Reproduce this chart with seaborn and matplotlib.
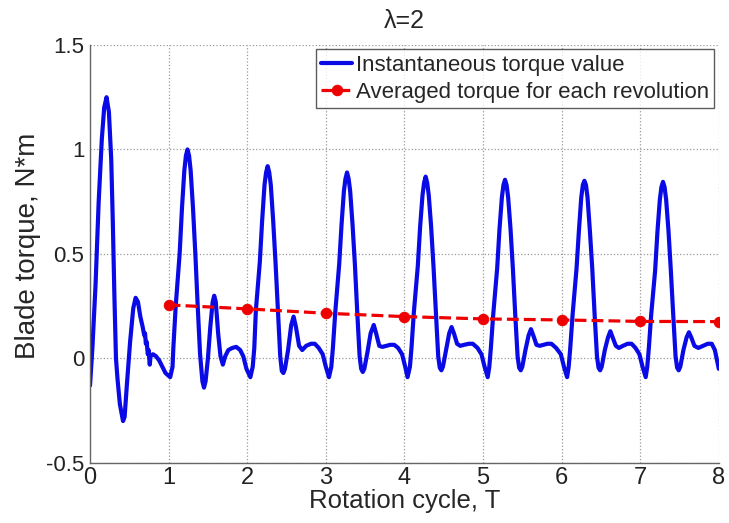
import numpy as np
import pandas as pd
import matplotlib
matplotlib.use('Agg')
import matplotlib.pyplot as plt
import seaborn as sns

# instantaneous blade torque
t_inst = [0.00, 0.03, 0.07, 0.11, 0.15, 0.18, 0.21, 0.24, 0.27, 0.29, 0.31, 0.33, 0.35, 0.38, 0.42, 0.44,
          0.47, 0.51, 0.55, 0.58, 0.61, 0.64, 0.67, 0.69, 0.70, 0.71, 0.72, 0.735, 0.745, 0.76, 0.77, 0.80,
          0.84, 0.88, 0.92, 0.96, 1.02,
          1.05, 1.06, 1.09, 1.14, 1.17, 1.20, 1.22, 1.24, 1.26, 1.28, 1.31, 1.34, 1.37, 1.40, 1.43, 1.45,
          1.47, 1.50, 1.53, 1.56, 1.58, 1.60, 1.63, 1.66, 1.69, 1.72, 1.76, 1.81, 1.86, 1.91, 1.95, 1.99, 2.04,
          2.07, 2.09, 2.11, 2.16, 2.19, 2.22, 2.24, 2.26, 2.28, 2.30, 2.33, 2.36, 2.39, 2.42, 2.44, 2.46,
          2.48, 2.52, 2.56, 2.59, 2.62, 2.66, 2.70, 2.75, 2.81, 2.86, 2.91, 2.96, 3.00, 3.04,
          3.07, 3.09, 3.12, 3.17, 3.20, 3.23, 3.25, 3.27, 3.29, 3.31, 3.34, 3.37, 3.40, 3.43, 3.45, 3.47,
          3.49, 3.53, 3.57, 3.61, 3.64, 3.68, 3.72, 3.77, 3.82, 3.87, 3.92, 3.97, 4.01, 4.04,
          4.07, 4.09, 4.12, 4.17, 4.20, 4.23, 4.25, 4.27, 4.29, 4.31, 4.34, 4.37, 4.40, 4.43, 4.45, 4.47,
          4.49, 4.53, 4.57, 4.60, 4.63, 4.67, 4.71, 4.76, 4.82, 4.87, 4.93, 4.98, 5.02, 5.06,
          5.08, 5.10, 5.13, 5.18, 5.21, 5.24, 5.26, 5.28, 5.30, 5.32, 5.35, 5.38, 5.41, 5.44, 5.46, 5.48,
          5.50, 5.54, 5.58, 5.61, 5.64, 5.68, 5.72, 5.77, 5.82, 5.87, 5.93, 5.99, 6.03, 6.07,
          6.09, 6.11, 6.14, 6.19, 6.22, 6.25, 6.27, 6.29, 6.31, 6.33, 6.36, 6.39, 6.42, 6.45, 6.47, 6.49,
          6.51, 6.55, 6.59, 6.62, 6.65, 6.69, 6.73, 6.78, 6.84, 6.89, 6.94, 6.99, 7.03, 7.07,
          7.09, 7.11, 7.14, 7.19, 7.22, 7.25, 7.27, 7.29, 7.31, 7.33, 7.36, 7.39, 7.42, 7.45, 7.47, 7.49,
          7.51, 7.55, 7.59, 7.62, 7.65, 7.69, 7.74, 7.80, 7.86, 7.91, 7.95, 8.00]
torque_inst = [-0.13, 0.05, 0.35, 0.75, 1.05, 1.20, 1.25, 1.18, 0.95, 0.65, 0.30, 0.00, -0.10, -0.22, -0.30, -0.28,
               -0.12, 0.08, 0.24, 0.29, 0.27, 0.20, 0.15, 0.11, 0.12, 0.07, 0.08, 0.02, 0.04, -0.03, 0.01, 0.02,
               0.01, -0.01, -0.04, -0.07, -0.09,
               -0.04, 0.05, 0.25, 0.50, 0.72, 0.90, 0.97, 1.00, 0.97, 0.90, 0.72, 0.50, 0.25, 0.02, -0.11, -0.14,
               -0.11, 0.00, 0.15, 0.27, 0.30, 0.27, 0.12, 0.01, -0.03, 0.01, 0.04, 0.05, 0.055, 0.04, 0.01, -0.05, -0.09,
               -0.04, 0.05, 0.23, 0.46, 0.66, 0.83, 0.89, 0.92, 0.89, 0.83, 0.66, 0.46, 0.23, 0.01, -0.06, -0.07,
               -0.05, 0.04, 0.16, 0.20, 0.15, 0.06, 0.04, 0.06, 0.07, 0.07, 0.05, 0.02, -0.04, -0.09,
               -0.04, 0.05, 0.22, 0.45, 0.64, 0.80, 0.86, 0.89, 0.86, 0.80, 0.64, 0.45, 0.22, 0.01, -0.05, -0.065,
               -0.05, 0.03, 0.12, 0.16, 0.12, 0.06, 0.055, 0.06, 0.065, 0.065, 0.05, 0.02, -0.04, -0.09,
               -0.04, 0.05, 0.22, 0.44, 0.63, 0.78, 0.84, 0.87, 0.84, 0.78, 0.63, 0.44, 0.22, 0.01, -0.045, -0.057,
               -0.04, 0.04, 0.12, 0.15, 0.12, 0.07, 0.06, 0.065, 0.07, 0.07, 0.05, 0.02, -0.04, -0.09,
               -0.04, 0.05, 0.21, 0.43, 0.62, 0.77, 0.83, 0.855, 0.83, 0.77, 0.62, 0.43, 0.21, 0.01, -0.045, -0.057,
               -0.04, 0.04, 0.11, 0.14, 0.11, 0.065, 0.06, 0.065, 0.07, 0.07, 0.05, 0.02, -0.04, -0.09,
               -0.04, 0.05, 0.21, 0.43, 0.61, 0.77, 0.83, 0.85, 0.83, 0.77, 0.61, 0.43, 0.21, 0.01, -0.045, -0.057,
               -0.04, 0.04, 0.10, 0.13, 0.10, 0.06, 0.05, 0.06, 0.07, 0.07, 0.05, 0.02, -0.04, -0.09,
               -0.04, 0.05, 0.21, 0.42, 0.61, 0.76, 0.82, 0.845, 0.82, 0.76, 0.61, 0.42, 0.21, 0.01, -0.045, -0.057,
               -0.04, 0.04, 0.10, 0.125, 0.10, 0.06, 0.05, 0.06, 0.07, 0.07, 0.04, -0.05]

# averaged torque per revolution
t_avg = [1, 2, 3, 4, 5, 6, 7, 8]
torque_avg = [0.256, 0.237, 0.216, 0.200, 0.189, 0.184, 0.177, 0.176]

df_inst = pd.DataFrame({'t': t_inst, 'torque': torque_inst})
df_avg = pd.DataFrame({'t': t_avg, 'torque': torque_avg})

sns.set_style('white')
plt.rcParams['font.family'] = ['Liberation Sans', 'DejaVu Sans']

fig = plt.figure(figsize=(7.29, 5.23), dpi=100)
ax = fig.add_axes([0.1235, 0.115, 0.8625, 0.799])

sns.lineplot(data=df_inst, x='t', y='torque', ax=ax, color='#0a0ae6', linewidth=3.0,
             label='Instantaneous torque value', sort=False, estimator=None)
sns.lineplot(data=df_avg, x='t', y='torque', ax=ax, color='#ee0000', linewidth=2.3,
             linestyle='--', marker='o', markersize=7.5, markeredgecolor='#ee0000',
             label='Averaged torque for each revolution', estimator=None)

ax.set_xlim(0, 8)
ax.set_ylim(-0.5, 1.5)
ax.set_xticks(range(0, 9))
ax.set_yticks([-0.5, 0, 0.5, 1, 1.5])
ax.set_yticklabels(['-0.5', '0', '0.5', '1', '1.5'])
ax.grid(True, linestyle=':', color='#999999', linewidth=0.9)
ax.tick_params(direction='in', length=4, colors='#222222')
ax.tick_params(axis='x', labelsize=17, pad=3)
ax.tick_params(axis='y', labelsize=16, pad=4)

for s in ['top', 'right']:
    ax.spines[s].set_visible(False)
for s in ['left', 'bottom']:
    ax.spines[s].set_color('#666666')
    ax.spines[s].set_linewidth(1.0)

ax.set_xlabel('Rotation cycle, T', fontsize=18.5, labelpad=0)
ax.set_ylabel('Blade torque, N*m', fontsize=20, labelpad=4)
ax.yaxis.label.set_y(0.52)
ax.set_title('λ=2', fontsize=18, pad=12)

leg = ax.legend(loc='upper right', fontsize=16, frameon=True, fancybox=False,
                borderpad=0.25, handlelength=1.4, handletextpad=0.15, labelspacing=0.25,
                borderaxespad=0.2)
leg.get_frame().set_edgecolor('#333333')
leg.get_frame().set_linewidth(1.0)

fig.savefig('out.png', dpi=100)
